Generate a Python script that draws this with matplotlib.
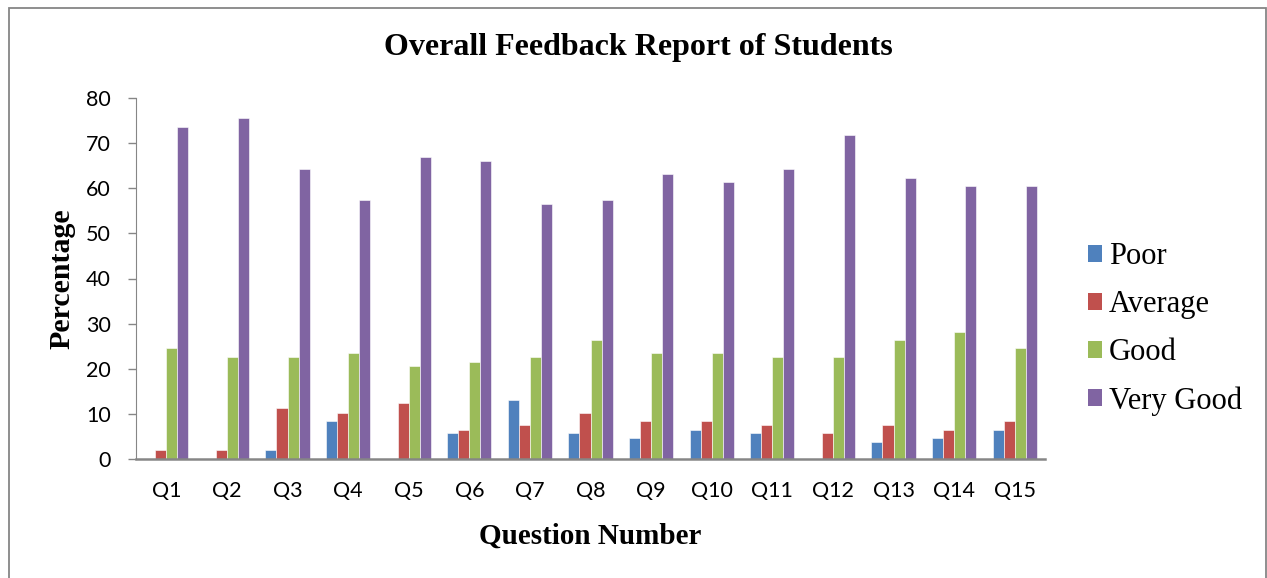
import numpy as np
import matplotlib
matplotlib.use("Agg")
import matplotlib.pyplot as plt
from matplotlib.patches import Rectangle

# values (percent of students)
questions = ["Q1", "Q2", "Q3", "Q4", "Q5", "Q6", "Q7", "Q8",
             "Q9", "Q10", "Q11", "Q12", "Q13", "Q14", "Q15"]
poor = [0, 0, 1.9, 8.4, 0, 5.7, 13.1, 5.7, 4.6, 6.5, 5.7, 0, 3.8, 4.6, 6.5]
average = [1.9, 1.9, 11.2, 10.3, 12.3, 6.5, 7.5, 10.3, 8.4, 8.4, 7.5, 5.7, 7.5, 6.5, 8.4]
good = [24.5, 22.6, 22.6, 23.5, 20.6, 21.6, 22.6, 26.3, 23.5, 23.5, 22.6, 22.6, 26.3, 28.2, 24.5]
very_good = [73.6, 75.5, 64.2, 57.5, 67.0, 66.0, 56.6, 57.5, 63.2, 61.4, 64.2, 71.7, 62.3, 60.4, 60.4]

series_names = ["Poor", "Average", "Good", "Very Good"]
colors = ["#4F81BD", "#C0504D", "#9BBB59", "#8064A2"]

W, H = 1267, 578
fig = plt.figure(figsize=(W / 100, H / 100), dpi=100)
ax = fig.add_axes([136 / W, 1 - 459 / H, (1045 - 136) / W, (459 - 98) / H])

x = np.arange(len(questions))
bw = 1 / 5.5  # excel gap width 150%
for i, (vals, name, c) in enumerate(zip([poor, average, good, very_good], series_names, colors)):
    ax.bar(x + (i - 1.5) * bw, vals, width=bw, color=c, label=name,
           edgecolor="white", linewidth=0.4)

ax.set_xlim(-0.5, len(questions) - 0.5)
ax.set_ylim(0, 80)
ax.set_yticks(range(0, 81, 10))
ax.set_xticks(x)
ax.set_xticklabels(questions)

tick_font = "Lato"
for lab in ax.get_xticklabels() + ax.get_yticklabels():
    lab.set_fontfamily(tick_font)
    lab.set_fontsize(15.5)
ax.tick_params(axis="x", length=0, pad=16)
ax.tick_params(axis="y", length=6, width=1, color="#868686", pad=12)

for s in ["top", "right"]:
    ax.spines[s].set_visible(False)
ax.spines["left"].set_color("#868686")
ax.spines["bottom"].set_color("#868686")
ax.spines["bottom"].set_linewidth(1.8)

serif = "Liberation Serif"
ax.set_ylabel("Percentage", fontfamily=serif, fontweight="bold", fontsize=21.5)
ax.yaxis.set_label_coords((62 - 136) / 909, 0.5)
ax.set_xlabel("Question Number", fontfamily=serif, fontweight="bold", fontsize=21)
ax.xaxis.set_label_coords(0.5, (459 - 536) / 361)
ax.xaxis.label.set_va("center")
ax.yaxis.label.set_va("center")

fig.text(638 / W, 1 - 47 / H, "Overall Feedback Report of Students",
         fontfamily=serif, fontweight="bold", fontsize=23, ha="center", va="center")

leg = ax.legend(loc="center left", bbox_to_anchor=(1088 / W, 1 - 329 / H),
                bbox_transform=fig.transFigure, frameon=False,
                prop={"family": serif, "size": 22},
                handlelength=0.46, handleheight=0.46, handletextpad=0.23,
                labelspacing=0.62, borderpad=0, borderaxespad=0)
for h in leg.legend_handles:
    h.set_edgecolor("none")

# chart border
fig.patches.append(Rectangle((8.5 / W, -0.05), (1265.5 - 8.5) / W, 1.05 - 8.5 / H,
                             transform=fig.transFigure, fill=False,
                             edgecolor="#868686", linewidth=1.3))

fig.savefig("out.png", dpi=100)
